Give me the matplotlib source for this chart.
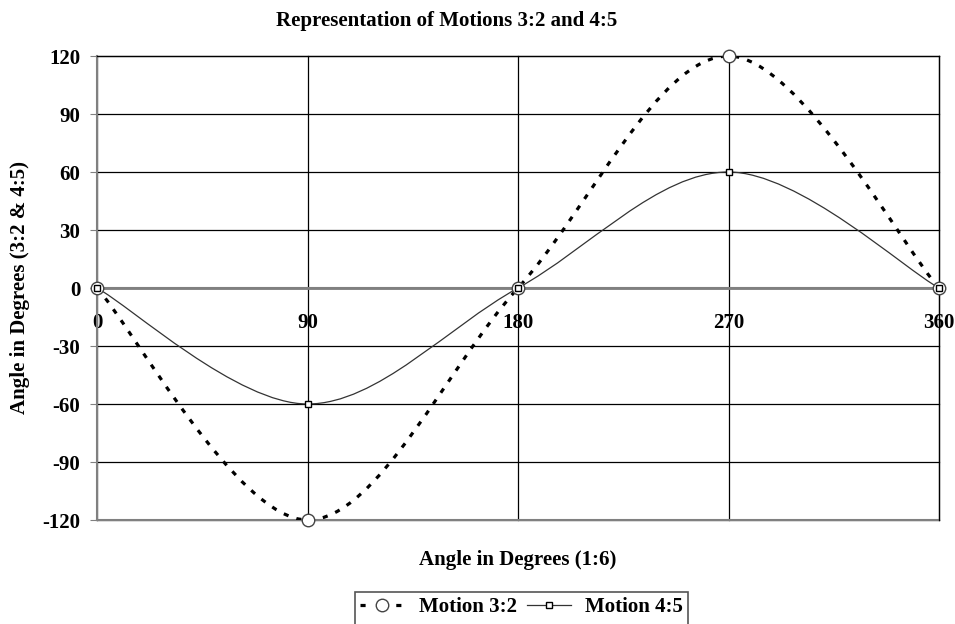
import numpy as np
import matplotlib.pyplot as plt
from matplotlib.path import Path
from matplotlib.patches import PathPatch, Rectangle
from matplotlib.lines import Line2D

# data
angle = [0, 90, 180, 270, 360]
motion_32 = [0, -120, 0, 120, 0]
motion_45 = [0, -60, 0, 60, 0]
y_ticks = [-120, -90, -60, -30, 0, 30, 60, 90, 120]
x_ticks = [0, 90, 180, 270, 360]

plt.rcParams['font.family'] = ['Liberation Serif', 'DejaVu Serif']
plt.rcParams['font.weight'] = 'bold'
plt.rcParams['axes.unicode_minus'] = False


def smooth_path(xs, ys):
    # Excel style smoothed line: cubic bezier through the points
    pts = np.column_stack([xs, ys]).astype(float)
    n = len(pts)
    verts = [pts[0]]
    codes = [Path.MOVETO]
    for i in range(n - 1):
        p0 = pts[i - 1] if i > 0 else pts[i]
        p1 = pts[i]
        p2 = pts[i + 1]
        p3 = pts[i + 2] if i + 2 < n else pts[i + 1]
        c1 = p1 + (p2 - p0) / 6
        c2 = p2 - (p3 - p1) / 6
        verts += [c1, c2, p2]
        codes += [Path.CURVE4] * 3
    return Path(verts, codes)


fig = plt.figure(figsize=(9.55, 6.24), dpi=100)
ax = fig.add_axes([97 / 955, 1 - 520 / 624, 842 / 955, 464 / 624])

ax.set_xlim(0, 360)
ax.set_ylim(-120, 120)

for v in y_ticks:
    ax.axhline(v, color='black', lw=0.9, zorder=1, clip_on=False)
for v in x_ticks:
    ax.axvline(v, color='black', lw=0.9, zorder=1, clip_on=False)
ax.axhline(0, color='#808080', lw=2, zorder=1.5)
ax.axhline(-120, color='#808080', lw=1.5, zorder=1.5, clip_on=False)

dash = (0, (1.6, 2.6))
ax.add_patch(PathPatch(smooth_path(angle, motion_32), fill=False, color='black',
                       lw=2.3, linestyle=dash, zorder=3))
ax.add_patch(PathPatch(smooth_path(angle, motion_45), fill=False, color='#333333',
                       lw=0.9, zorder=3))
ax.plot(angle, motion_32, 'o', ms=9, mfc='white', mec='#444444', mew=1, zorder=4, clip_on=False)
ax.plot(angle, motion_45, 's', ms=5, mfc='white', mec='black', mew=1, zorder=5, clip_on=False)

for s in ['left', 'bottom']:
    ax.spines[s].set_color('#808080')
    ax.spines[s].set_linewidth(1.5)
ax.spines['bottom'].set_position(('data', 0))
ax.spines['bottom'].set_zorder(1.5)
for s in ['top', 'right']:
    ax.spines[s].set_color('black')
    ax.spines[s].set_linewidth(0.9)

ax.set_yticks(y_ticks)
ax.set_xticks(x_ticks)
ax.tick_params(axis='y', direction='out', length=5, color='#808080', pad=7, labelsize=15)
ax.tick_params(axis='x', length=0, pad=18, labelsize=15)

fig.text(447 / 955, 1 - 21 / 624, 'Representation of Motions 3:2 and 4:5',
         ha='center', va='center', fontsize=15, fontweight='bold')
fig.text(518 / 955, 1 - 560 / 624, 'Angle in Degrees (1:6)',
         ha='center', va='center', fontsize=15, fontweight='bold')
fig.text(20 / 955, 1 - 288 / 624, 'Angle in Degrees (3:2 & 4:5)', rotation=90,
         ha='center', va='center', fontsize=15, fontweight='bold')

handles = [
    Line2D([], [], color='black', lw=2.3, linestyle=(0, (1.6, 4.0)), marker='o',
           ms=9, mfc='white', mec='#444444', mew=1),
    Line2D([], [], color='#333333', lw=0.9, marker='s', ms=5, mfc='white', mec='black', mew=1),
]
leg = fig.legend(handles, ['Motion 3:2', 'Motion 4:5'], loc='upper left',
                 bbox_to_anchor=(355 / 955, 1 - 592 / 624), ncol=2, frameon=False,
                 fontsize=15, handlelength=2.1, borderpad=0.25, columnspacing=0.5,
                 handletextpad=0.7, borderaxespad=0)

# legend frame runs past the bottom edge of the picture, as in the original
fig.canvas.draw()
bb = leg.get_window_extent().transformed(fig.transFigure.inverted())
fig.patches.append(Rectangle((bb.x0, bb.y1 - 45 / 624), bb.width, 45 / 624,
                             transform=fig.transFigure, fill=False,
                             edgecolor='#555555', lw=1.2, figure=fig))

fig.savefig('out.png', dpi=100)
